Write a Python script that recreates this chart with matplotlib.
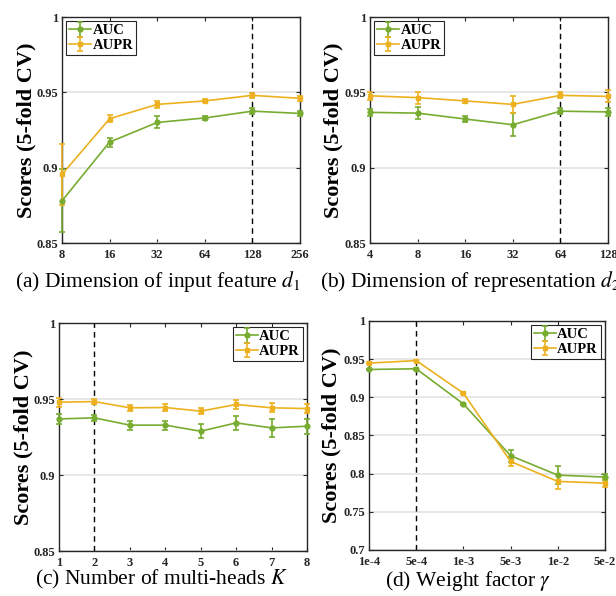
import matplotlib
matplotlib.use("Agg")
import matplotlib.pyplot as plt
import numpy as np

plt.rcParams['font.family'] = ['Liberation Serif', 'DejaVu Serif']
plt.rcParams['mathtext.fontset'] = 'stix'

GREEN = '#77AC30'
ORANGE = '#EDB120'

# (a) input feature dimension d1
a_labels = ['8', '16', '32', '64', '128', '256']
a_auc = [0.878, 0.917, 0.930, 0.933, 0.9375, 0.936]
a_auc_err = [0.021, 0.003, 0.004, 0.0015, 0.002, 0.0015]
a_aupr = [0.8955, 0.9325, 0.942, 0.9443, 0.948, 0.946]
a_aupr_err = [0.0205, 0.0025, 0.0025, 0.001, 0.0015, 0.0015]

# (b) representation dimension d2
b_labels = ['4', '8', '16', '32', '64', '128']
b_auc = [0.9367, 0.9362, 0.9323, 0.9285, 0.9375, 0.937]
b_auc_err = [0.0025, 0.004, 0.002, 0.0075, 0.002, 0.0025]
b_aupr = [0.9477, 0.9465, 0.9443, 0.942, 0.948, 0.9473]
b_aupr_err = [0.0025, 0.004, 0.0015, 0.0055, 0.002, 0.004]

# (c) number of heads K
c_labels = ['1', '2', '3', '4', '5', '6', '7', '8']
c_auc = [0.9369, 0.9376, 0.9328, 0.9328, 0.9288, 0.9343, 0.931, 0.9321]
c_auc_err = [0.0033, 0.002, 0.003, 0.003, 0.0045, 0.0045, 0.0057, 0.005]
c_aupr = [0.9479, 0.9483, 0.9442, 0.9444, 0.942, 0.9464, 0.9442, 0.9437]
c_aupr_err = [0.003, 0.0015, 0.002, 0.0025, 0.002, 0.003, 0.003, 0.003]

# (d) weight factor gamma
d_labels = ['1e-4', '5e-4', '1e-3', '5e-3', '1e-2', '5e-2']
d_auc = [0.9365, 0.9374, 0.8914, 0.8235, 0.7981, 0.7955]
d_auc_err = [0.001, 0.001, 0.001, 0.008, 0.012, 0.004]
d_aupr = [0.9448, 0.9482, 0.9054, 0.816, 0.7898, 0.7876]
d_aupr_err = [0.001, 0.001, 0.001, 0.006, 0.010, 0.005]

W, H = 616, 596
fig = plt.figure(figsize=(W / 100, H / 100), dpi=100)


def px_axes(l, t, r, b):
    return fig.add_axes([l / W, 1 - b / H, (r - l) / W, (b - t) / H])


panels = [
    dict(box=(62, 17, 300, 243), labels=a_labels, auc=a_auc, auce=a_auc_err,
         aupr=a_aupr, aupre=a_aupr_err, ylim=(0.85, 1.0), yt=[0.85, 0.9, 0.95, 1.0],
         ytl=['0.85', '0.9', '0.95', '1'], vline=4, loc='upper left',
         cap=r'(a) Dimension of input feature $d_1$', capxy=(158, 281), ylx=26),
    dict(box=(370, 17, 608, 243), labels=b_labels, auc=b_auc, auce=b_auc_err,
         aupr=b_aupr, aupre=b_aupr_err, ylim=(0.85, 1.0), yt=[0.85, 0.9, 0.95, 1.0],
         ytl=['0.85', '0.9', '0.95', '1'], vline=4, loc='upper left',
         cap=r'(b) Dimension of representation $d_2$', capxy=(470, 281), ylx=333),
    dict(box=(59, 323, 307, 551), labels=c_labels, auc=c_auc, auce=c_auc_err,
         aupr=c_aupr, aupre=c_aupr_err, ylim=(0.85, 1.0), yt=[0.85, 0.9, 0.95, 1.0],
         ytl=['0.85', '0.9', '0.95', '1'], vline=1, loc='upper right',
         cap=r'(c) Number of multi-heads $K$', capxy=(161, 579), ylx=23),
    dict(box=(369, 321, 605, 550), labels=d_labels, auc=d_auc, auce=d_auc_err,
         aupr=d_aupr, aupre=d_aupr_err, ylim=(0.7, 1.0),
         yt=[0.7, 0.75, 0.8, 0.85, 0.9, 0.95, 1.0],
         ytl=['0.7', '0.75', '0.8', '0.85', '0.9', '0.95', '1'], vline=1, loc='upper right',
         cap=r'(d) Weight factor $\gamma$', capxy=(468, 581), ylx=331),
]

for p in panels:
    ax = px_axes(*p['box'])
    x = np.arange(len(p['labels']))
    ax.errorbar(x, p['auc'], yerr=p['auce'], color=GREEN, lw=1.2, marker='o', ms=3.5,
                capsize=2, elinewidth=1.2, capthick=1.2, label='AUC', clip_on=False, zorder=3)
    ax.errorbar(x, p['aupr'], yerr=p['aupre'], color=ORANGE, lw=1.2, marker='s', ms=3,
                capsize=2, elinewidth=1.2, capthick=1.2, label='AUPR', clip_on=False, zorder=3)
    ax.axvline(p['vline'], color='black', ls=(0, (4, 3)), lw=1.0, zorder=2)
    ax.set_xlim(0, len(p['labels']) - 1)
    ax.set_ylim(*p['ylim'])
    ax.set_xticks(x)
    ax.set_xticklabels(p['labels'])
    ax.set_yticks(p['yt'])
    ax.set_yticklabels(p['ytl'])
    ax.yaxis.grid(True, color='#e3e3e3', lw=1.2)
    ax.set_axisbelow(True)
    ax.tick_params(direction='in', length=3, width=0.8, top=True, right=True,
                   labelsize=9, colors='#262626')
    ax.tick_params(axis='x', pad=4)
    ax.tick_params(axis='y', pad=3)
    for lab in ax.get_xticklabels() + ax.get_yticklabels():
        lab.set_fontweight('bold')
    for s in ax.spines.values():
        s.set_color('#262626')
        s.set_linewidth(1.0)
    leg = ax.legend(loc=p['loc'], prop={'weight': 'bold', 'size': 10.5}, fancybox=False,
                    framealpha=1, edgecolor='#262626', borderaxespad=0.3,
                    handlelength=1.5, handletextpad=0.1, borderpad=0.2, labelspacing=0.1)
    leg.get_frame().set_linewidth(0.8)
    fig.text(p['ylx'] / W, 1 - ((p['box'][1] + p['box'][3]) / 2) / H, 'Scores (5-fold CV)',
             rotation=90, ha='center', va='center', fontsize=16, fontweight='bold')
    fig.text(p['capxy'][0] / W, 1 - p['capxy'][1] / H, p['cap'], ha='center', va='center',
             fontsize=15.5)

fig.savefig('out.png', dpi=100)
